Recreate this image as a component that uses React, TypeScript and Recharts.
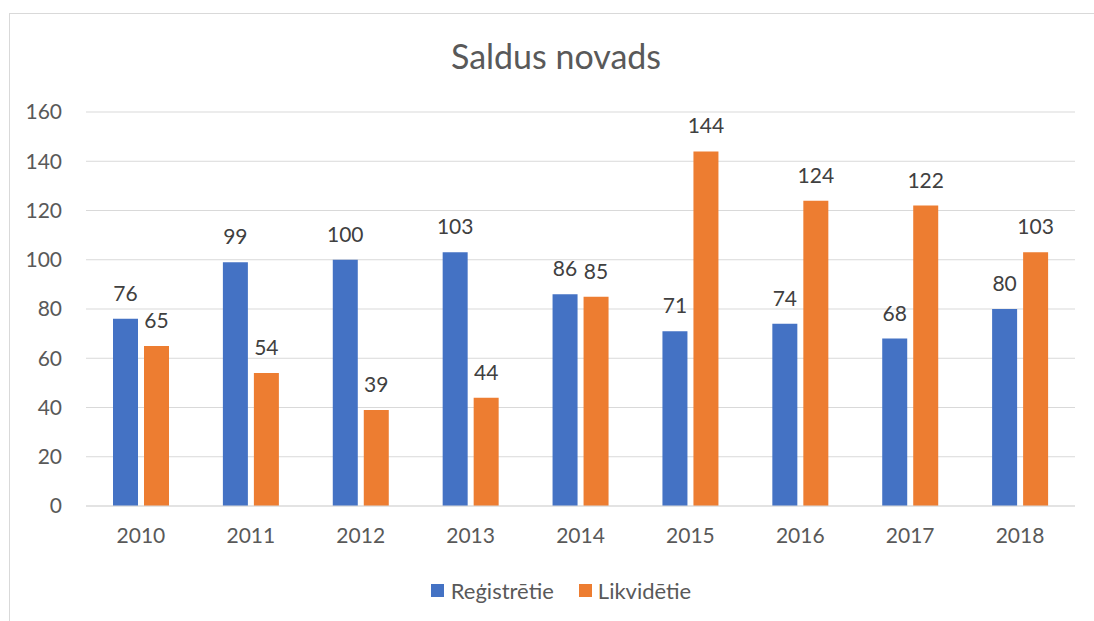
import { BarChart, Bar, XAxis, YAxis, CartesianGrid, LabelList } from "recharts";

const years = ["2010", "2011", "2012", "2013", "2014", "2015", "2016", "2017", "2018"];
const registretie = [76, 99, 100, 103, 86, 71, 74, 68, 80];
const likvidetie = [65, 54, 39, 44, 85, 144, 124, 122, 103];
const yTicks = [0, 20, 40, 60, 80, 100, 120, 140, 160];

const data = years.map((year, i) => ({
  year,
  reg: registretie[i],
  likv: likvidetie[i],
}));

const FONT = "Lato, 'Open Sans', sans-serif";

const LegendBox = () => (
  <div
    style={{
      position: "absolute",
      left: 0,
      width: 1122,
      top: 577,
      display: "flex",
      justifyContent: "center",
      fontFamily: FONT,
      fontSize: 22,
      color: "#595959",
    }}
  >
    <span style={{ display: "flex", alignItems: "center", marginRight: 25 }}>
      <span style={{ width: 13, height: 13, background: "#4472C4", marginRight: 7 }} />
      Reģistrētie
    </span>
    <span style={{ display: "flex", alignItems: "center" }}>
      <span style={{ width: 13, height: 13, background: "#ED7D31", marginRight: 6 }} />
      Likvidētie
    </span>
  </div>
);

const App = () => {
  return (
    <div style={{ position: "absolute", left: 0, top: 0, width: 1094, height: 621, background: "#fff", overflow: "hidden" }}>
      {/* frame: only top and left edges show in the crop */}
      <div
        style={{
          position: "absolute",
          left: 9,
          top: 13,
          width: 1100,
          height: 640,
          borderTop: "1px solid #d9d9d9",
          borderLeft: "1px solid #d9d9d9",
          boxSizing: "border-box",
        }}
      />
      <div
        style={{
          position: "absolute",
          left: 0,
          width: 1112,
          top: 35,
          textAlign: "center",
          fontFamily: FONT,
          fontSize: 34,
          color: "#595959",
        }}
      >
        Saldus novads
      </div>
      <div style={{ position: "absolute", left: 0, top: 0 }}>
        <BarChart
          width={1094}
          height={621}
          data={data}
          margin={{ top: 112, right: 19, bottom: 85, left: 26 }}
          barGap={6}
          barSize={25}
        >
          <CartesianGrid vertical={false} stroke="#d9d9d9" strokeWidth={1.2} />
          <XAxis
            dataKey="year"
            height={30}
            axisLine={{ stroke: "#d9d9d9", strokeWidth: 1.2 }}
            tickLine={false}
            tickMargin={16}
            tick={{ fill: "#595959", fontSize: 21, fontFamily: FONT }}
          />
          <YAxis
            width={60}
            domain={[0, 160]}
            ticks={yTicks}
            axisLine={false}
            tickLine={false}
            tickMargin={18}
            tick={{ fill: "#595959", fontSize: 21, fontFamily: FONT }}
          />
          <Bar dataKey="reg" name="Reģistrētie" fill="#4472C4" isAnimationActive={false}>
            <LabelList dataKey="reg" position="top" offset={18} fill="#404040" fontSize={21} fontFamily={FONT} />
          </Bar>
          <Bar dataKey="likv" name="Likvidētie" fill="#ED7D31" isAnimationActive={false}>
            <LabelList dataKey="likv" position="top" offset={18} fill="#404040" fontSize={21} fontFamily={FONT} />
          </Bar>
        </BarChart>
      </div>
      <LegendBox />
    </div>
  );
};

export default App;
